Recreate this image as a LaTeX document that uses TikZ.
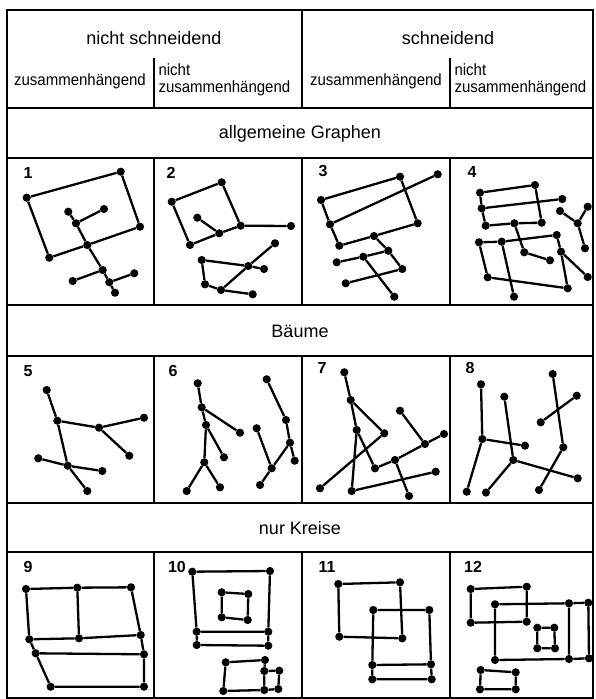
\documentclass[tikz,border=0pt]{standalone}
\usepackage{fontspec}
\setmainfont{Liberation Sans}
\newfontfamily\condfont[FakeStretch=0.92]{Liberation Sans}
\begin{document}
\begin{tikzpicture}[x=1pt,y=-1pt]
\tikzset{
  dot/.style={circle,fill=black,inner sep=0pt,minimum size=8.2pt},
  ln/.style={line width=2.3pt},
  gridline/.style={line width=2pt},
  frame/.style={line width=2.6pt},
  head/.style={font=\fontsize{18}{20}\selectfont},
  sub/.style={font=\condfont\fontsize{16.3}{17}\selectfont},
  num/.style={font=\fontsize{16}{17}\selectfont\bfseries},
}
\newcommand\D[3]{\node[dot] (#1) at (#2,#3) {};}
\useasboundingbox (0,0) rectangle (595,699);
% grid
\draw[frame] (7,10) rectangle (593,698);
\foreach \yy in {108,158,305,356,503,552} \draw[gridline] (7,\yy) -- (593,\yy);
\draw[gridline] (302,10) -- (302,108);
\draw[gridline] (154,58) -- (154,108);
\draw[gridline] (450,58) -- (450,108);
\foreach \xx in {154,302,450} {
  \draw[gridline] (\xx,158) -- (\xx,305);
  \draw[gridline] (\xx,356) -- (\xx,503);
  \draw[gridline] (\xx,552) -- (\xx,698);
}
% headers
\node[head] (hns) at (154,38) {nicht schneidend};
\node[head] (hs) at (448,38) {schneidend};
\node[sub] (hz1) at (80,81) {zusammenhängend};
\node[sub,align=left,anchor=west] (hz2) at (155,80) {nicht\\zusammenhängend};
\node[sub] (hz3) at (376,81) {zusammenhängend};
\node[sub,align=left,anchor=west] (hz4) at (451,80) {nicht\\zusammenhängend};
\node[head] (rg) at (300,134) {allgemeine Graphen};
\node[head] (rb) at (300,331) {Bäume};
\node[head] (rk) at (300,528) {nur Kreise};
% numbers
\node[num] (n1) at (28,173) {1};
\node[num] (n2) at (171,173) {2};
\node[num] (n3) at (323,171) {3};
\node[num] (n4) at (472,172) {4};
\node[num] (n5) at (28,371) {5};
\node[num] (n6) at (173,371) {6};
\node[num] (n7) at (322,368) {7};
\node[num] (n8) at (470,368) {8};
\node[num] (n9) at (28,567) {9};
\node[num] (n10) at (177,567) {10};
\node[num] (n11) at (327,567) {11};
\node[num] (n12) at (473,567) {12};
% graph 1
\D{a1}{26.7}{197.7} \D{b1}{120.7}{171.7} \D{c1}{140}{226.7} \D{d1}{49.3}{257.7}
\D{e1}{68.3}{211.7} \D{f1}{76}{223.3} \D{g1}{104}{209} \D{h1}{87.3}{245}
\D{i1}{102.7}{270} \D{j1}{72.7}{281} \D{k1}{109.3}{282.3} \D{l1}{134.3}{273.3} \D{m1}{115}{292.7}
\draw[ln] (a1)--(b1)--(c1)--(h1)--(d1)--(a1) (e1)--(f1)--(g1) (f1)--(h1)--(i1)--(j1) (i1)--(k1)--(l1) (k1)--(m1);
% graph 2
\D{a2}{171.7}{201.7} \D{b2}{221.7}{182.3} \D{c2}{240.7}{225.7} \D{d2}{190}{245} \D{e2}{219.3}{233.3} \D{f2}{197.3}{217.7} \D{g2}{291}{226}
\D{h2}{201.7}{260} \D{i2}{248.3}{266} \D{j2}{264}{269} \D{k2}{275}{243.3} \D{l2}{205}{284.3} \D{m2}{221}{290} \D{n2}{252.7}{294.3}
\draw[ln] (a2)--(b2)--(c2)--(e2)--(d2)--(a2) (f2)--(e2) (c2)--(g2) (h2)--(i2)--(j2) (k2)--(i2)--(m2) (h2)--(l2)--(m2)--(n2);
% graph 3
\D{a3}{321}{200} \D{b3}{400}{176.7} \D{c3}{417.7}{223.3} \D{d3}{339.3}{245.7} \D{e3}{330}{224.3} \D{f3}{437.7}{174.3} \D{g3}{374}{236}
\D{h3}{388.3}{250.7} \D{i3}{402.3}{269} \D{j3}{336.7}{262.3} \D{k3}{363.3}{256.7} \D{l3}{394.3}{296.7} \D{m3}{345.7}{283.3}
\draw[ln] (a3)--(b3)--(c3)--(g3)--(d3)--(e3)--(a3) (e3)--(f3) (g3)--(h3)--(i3) (j3)--(k3)--(h3) (k3)--(l3) (m3)--(i3);
% graph 4
\D{a4}{480}{192.7} \D{b4}{535}{185} \D{c4}{541.7}{222.7} \D{d4}{485.7}{225.7} \D{e4}{481.7}{208.3} \D{f4}{562.3}{199} \D{g4}{514.3}{223.3}
\D{h4}{524.3}{252.3} \D{i4}{550}{260.3}
\D{j4}{479}{242.3} \D{k4}{501.7}{241.7} \D{l4}{556.7}{235} \D{m4}{567.7}{288.3} \D{n4}{487.7}{277.3} \D{o4}{561}{251.7} \D{p4}{587.7}{277} \D{q4}{514}{296.7}
\D{r4}{560}{211} \D{s4}{577.7}{223.3} \D{t4}{587.7}{206.7} \D{u4}{585}{248.3}
\draw[ln] (a4)--(b4)--(c4)--(g4)--(d4)--(e4)--(a4) (e4)--(f4) (g4)--(h4)--(i4) (j4)--(k4)--(l4)--(o4)--(m4)--(n4)--(j4) (o4)--(p4) (k4)--(q4) (r4)--(s4)--(t4) (s4)--(u4);
% graph 5
\D{a5}{46.7}{390} \D{b5}{57.3}{420.7} \D{c5}{99}{427.7} \D{d5}{144}{417.7} \D{e5}{129.3}{455.7} \D{f5}{67.7}{465.7} \D{g5}{38.3}{458.3} \D{h5}{102.3}{471} \D{i5}{87.3}{491}
\draw[ln] (a5)--(b5)--(c5)--(d5) (c5)--(e5) (b5)--(f5)--(i5) (g5)--(f5)--(h5);
% graph 6
\D{a6}{197.7}{383.3} \D{b6}{201.7}{407.3} \D{c6}{240}{432.7} \D{d6}{206}{425} \D{e6}{224}{457.3} \D{f6}{204.3}{462.3} \D{g6}{186.7}{491} \D{h6}{220}{487.3}
\D{i6}{266.7}{379.3} \D{j6}{286}{420} \D{k6}{290}{442.7} \D{l6}{294.7}{460.7} \D{m6}{256.7}{428.3} \D{n6}{271.7}{468.3} \D{o6}{260}{485}
\draw[ln] (a6)--(b6)--(c6) (b6)--(d6)--(e6) (d6)--(f6)--(g6) (f6)--(h6) (i6)--(j6)--(k6)--(l6) (k6)--(n6)--(o6) (m6)--(n6);
% graph 7
\D{a7}{344.3}{372.3} \D{b7}{350.7}{400} \D{c7}{384.3}{433.3} \D{d7}{356.7}{430} \D{e7}{375}{468.3} \D{f7}{395}{460} \D{g7}{425}{444} \D{h7}{444}{434} \D{i7}{400}{410.7} \D{j7}{320}{488.3} \D{k7}{351.7}{491} \D{l7}{435.7}{471.7} \D{m7}{409}{496}
\draw[ln] (a7)--(b7)--(c7)--(j7) (b7)--(d7)--(e7)--(f7)--(g7)--(h7) (g7)--(i7) (d7)--(k7)--(l7) (f7)--(m7);
% graph 8
\D{a8}{481}{384.3} \D{b8}{482.3}{439} \D{c8}{525}{445.7} \D{d8}{466.7}{491.7} \D{e8}{504.3}{396.7} \D{f8}{513.3}{460} \D{g8}{486}{492.5} \D{h8}{577.7}{478.3} \D{i8}{552.7}{374} \D{j8}{563.3}{447.3} \D{k8}{539}{490} \D{l8}{540.7}{422.3} \D{m8}{576.7}{395.7}
\draw[ln] (a8)--(b8)--(c8) (b8)--(d8) (e8)--(f8)--(g8) (f8)--(h8) (i8)--(j8)--(k8) (l8)--(m8);
% graph 9
\D{a9}{26}{589} \D{b9}{77.3}{587.7} \D{c9}{131}{587.3} \D{d9}{29.3}{639.3} \D{e9}{79}{638.3} \D{f9}{140.7}{635} \D{g9}{35.7}{653.3} \D{h9}{144}{654.3} \D{i9}{50.7}{686.7} \D{j9}{144}{686.7}
\draw[ln] (a9)--(b9)--(c9)--(f9)--(e9)--(d9)--(a9) (b9)--(e9) (d9)--(g9)--(h9)--(f9) (g9)--(i9)--(j9)--(h9);
% graph 10
\D{a10}{192.3}{571.7} \D{b10}{270}{571} \D{c10}{268.3}{631.7} \D{d10}{196.7}{631.7} \D{e10}{196.7}{645} \D{f10}{268.3}{645.7}
\D{g10}{221.7}{592.3} \D{h10}{248.3}{594} \D{i10}{247.7}{620} \D{j10}{221.7}{617.3}
\D{k10}{225.7}{662.3} \D{l10}{265}{660} \D{m10}{264.3}{671} \D{n10}{279.3}{670.7} \D{o10}{278.3}{689} \D{p10}{264.3}{690} \D{q10}{223.3}{691}
\draw[ln] (a10)--(b10)--(c10)--(d10)--(a10) (d10)--(e10)--(f10)--(c10) (g10)--(h10)--(i10)--(j10)--(g10) (k10)--(l10)--(m10)--(n10)--(o10)--(p10)--(q10)--(k10) (m10)--(p10);
% graph 11
\D{a11}{338.3}{584} \D{b11}{400}{582.3} \D{c11}{402.3}{638.3} \D{d11}{339.3}{636.7}
\D{e11}{373.3}{610} \D{f11}{429.3}{610} \D{g11}{431}{664.3} \D{h11}{372.3}{665} \D{i11}{431.7}{679.3} \D{j11}{372.3}{679.3}
\draw[ln] (a11)--(b11)--(c11)--(d11)--(a11) (e11)--(f11)--(g11)--(h11)--(e11) (h11)--(j11)--(i11)--(g11);
% graph 12
\D{a12}{470.7}{589} \D{b12}{526.7}{586.7} \D{c12}{526.7}{621.7} \D{d12}{470.7}{622.7}
\D{e12}{495}{604.3} \D{f12}{569}{603.3} \D{g12}{588.3}{602.7} \D{h12}{589}{658.3} \D{i12}{569}{659} \D{j12}{495}{660}
\D{k12}{537.3}{627.7} \D{l12}{554.3}{627.7} \D{m12}{555}{648.3} \D{n12}{537.3}{648.3}
\D{o12}{480.7}{670} \D{p12}{515.7}{672.3} \D{q12}{515.7}{689.3} \D{r12}{480}{689.3}
\draw[ln] (a12)--(b12)--(c12)--(d12)--(a12) (e12)--(f12)--(g12)--(h12)--(i12)--(j12)--(e12) (f12)--(i12) (k12)--(l12)--(m12)--(n12)--(k12) (o12)--(p12)--(q12)--(r12)--(o12);
\end{tikzpicture}
\end{document}
